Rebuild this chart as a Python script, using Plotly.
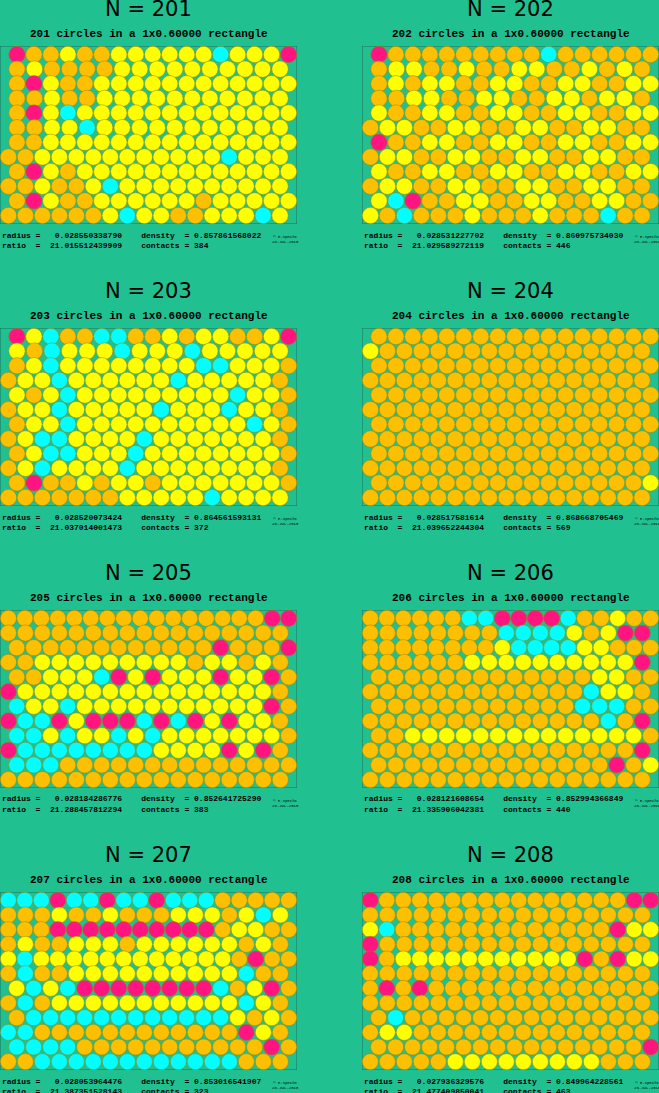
import plotly.graph_objects as go

W, H = 659, 1093

n_values = [201, 202, 203, 204, 205, 206, 207, 208]
radius = ["0.028550338790", "0.028531227702", "0.028520073424", "0.028517581614",
          "0.028184286776", "0.028121608654", "0.028053964476", "0.027936329576"]
density = ["0.857861568022", "0.860975734030", "0.864561593131", "0.868668705469",
           "0.852641725290", "0.852994366849", "0.853016541907", "0.849964228561"]
ratio = ["21.015512439909", "21.029589272119", "21.037014001473", "21.039652244304",
         "21.288457812294", "21.335906042381", "21.387351528143", "21.477409850041"]
contacts = [384, 446, 372, 569, 383, 440, 323, 463]

# colour of each circle, row by row from the top
colour_rows = [
    ["MOOYOOYYYYYYCYYYM", "OYOOOOYYYYYYYYYYC", "OMYOOYYYYYYYYYYYY", "OOYOOYYYYYYYYYYYY",
     "OMYCYYYYYYYYYYYYY", "OOYYCYYYYYYYYYYYY", "OOYYYYYYYYYYYYYYY", "OOYYYYYYYYYYYCYYY",
     "OMYOYYYYYYYYYYYYY", "OOYOOYCYYYYYYYYYY", "OMYOOYYYYYYOYYYYY", "OOOOOOYCYYOOYYYCY"],
    ["MOOOOOOOOOCOOOOOO", "OYYOOYOOYYOOYOYOO", "OYOYYOOYYOOYYOOYY", "OOYYOOYYOOYYOYYOO",
     "YOOYYOOYYOOYYOOYY", "OYYOOYYOOYYOOYYOO", "MOOYYOOYYOOYYOOYY", "OYYOOYYOOYYOOYYOO",
     "YOOYYOOYYOOYYOOYY", "OYYOOYYOOYYOOYYOO", "YCMOOYYOOYYOOYYOO", "YOCOOOYOOOYOOOCOO"],
    ["MYCOOCCOOYOYYOOYM", "YOCYYYCYYYCYYYYYO", "OYCYYYYYYYYCCYYYO", "OYYCYYYYYYCYYYYYO",
     "YOYCYYYYYYYYYCYYO", "OYYCYYYYYCYYYCYYO", "OYYCYYYYYYYYYYCYO", "OYCCYYYYCYYYYYYYO",
     "OYCCYYYCYYYYYYYYO", "OYCYYYYCYYYYYYYYO", "OMOOYOYYOYYYYYYYO", "OOOOOOOYYYYYCYYYY"],
    ["OOOOOOOOOOOOOOOOO", "YOOOOOOOOOOOOOOOO", "OOOOOOOOOOOOOOOOO", "OOOOOOOOOOOOOOOOO",
     "OOOOOOOOOOOOOOOOO", "OOOOOOOOOOOOOOOOO", "OOOOOOOOOOOOOOOOO", "OOOOOOOOOOOOOOOOO",
     "OOOOOOOOOOOOOOOOO", "OOOOOOOOOOOOOOOOO", "OOOOOOOOOOOOOOOOY", "OOOOOOOOOOOOOOOOO"],
    ["OOOOOOOOOOOOOOOOM", "OOOOOOOOOOOOOOOOO", "OOOOOOOOOOOOMOOOM", "OOYYYYYYYYYOYYOYO",
     "OOYYYCMYMYYYMYYMO", "MYYYYYYYYYYYYYYYO", "CYYCYYYYYYYYYYYMO", "MCCMYMMMCMCMYMYYO",
     "CCYCYYCYCYYYYYYYO", "MCCCCCCCCYYYYMYMO", "CCCOOOOOOOOOOOOOO", "OOOOOOOOOOOOOOOOO"],
    ["OOOOOOCCMMMMCOOYO", "OOOOOOOOCCCCYOYMM", "OOOOOOOOYCCCCYYOO", "OOOOOOYYYYYYYYYYM",
     "OOOOOOOOOOOOOYYOO", "OOOOOOOOOOOOOCYYO", "OOOOOOOOOOOOCCCOO", "OOOOOOOOOOOOOOCOM",
     "OOYYYYYYYYYYYYYYO", "OOOOOOOOOOOOOOOOM", "OOOOOOOOOOOOOOMOY", "OOOOOOOOOOOOOOOOO"],
    ["CCCMCCMCCMCCCOOOO", "OOOYOOYOOOYYYOYCY", "OOOMMMMMMMMMMOYYO", "OYOOYYYOYYYYYYOYO",
     "YCYYYYYYYYYYYYOMO", "OCOOYYYYYYYYYYCOO", "YCYCMMMMMMMMCOYMO", "OCOYYYYYYYYYYYCYO",
     "OCCCCCCCCCCCCYOYO", "CCOOOOOOOOOOOOMYO", "CCCCOOOOOOOOOOOMO", "OOCCCCCCCCCCCCOOO"],
    ["MOOOOOOOOOOOOOOOM", "OOOOOOOOOOOOOOOOO", "YCOOOOOOOOOOOOOMY", "MOOOOOOOOOOOOOOOO",
     "MOYYYYYYYYYYYMOMY", "OOOOOOOOOOOOOOOOO", "OMOMOOOOOOOOOOOOO", "OOOOOOOOOOOOOOOOO",
     "OCOOOOOOOOOOOOOOO", "OYYOOOOOOOOOOOOOO", "OOOOOOOOOOOOOOOOM", "OOOOOYYYYYYYYYOOO"],
]
palette = {"O": "#fcc000", "Y": "#ffff00", "C": "#00ffff", "M": "#ff1480"}

BG = "#20c090"
PW, PH = 297, 178
fig = go.Figure()
annotations = []
n_rows = 12

for k, n in enumerate(n_values):
    col, row = k % 2, k // 2
    x0 = 0 if col == 0 else 362
    top = 46 + 282 * row
    r = float(radius[k])
    # distribute circles over 12 rows
    counts = [17] * n_rows
    diff = n - sum(counts)
    i = 1
    while diff < 0:
        counts[i] -= 1
        diff += 1
        i += 2
    i = 0
    while diff > 0:
        counts[i] += 1
        diff -= 1
        i += 2
    dy = (0.6 - 2 * r) / (n_rows - 1)
    xs, ys, cs = [], [], []
    for ri, c in enumerate(counts):
        y = 0.6 - r - ri * dy
        if c >= 18:
            start, end = r, 1 - r
        elif c == 17:
            start, end = (2 * r, 1 - r) if ri % 2 == 0 else (r, 1 - 2 * r)
        else:
            start, end = 2 * r, 1 - 2 * r
        step = (end - start) / (c - 1)
        s = colour_rows[k][ri]
        for ci in range(c):
            xs.append(start + ci * step)
            ys.append(y)
            cs.append(palette[s[min(ci, len(s) - 1)]])
    ax = "" if k == 0 else str(k + 1)
    fig.add_trace(go.Scatter(
        x=xs, y=ys, mode="markers", xaxis="x" + ax, yaxis="y" + ax,
        marker=dict(size=2 * r * PW * 0.97, color=cs, line=dict(color="#a08000", width=0.5)),
        hoverinfo="skip", showlegend=False))
    fig.update_layout(**{
        "xaxis" + ax: dict(domain=[x0 / W, (x0 + PW) / W], range=[0, 1], visible=False,
                           fixedrange=True),
        "yaxis" + ax: dict(domain=[1 - (top + PH) / H, 1 - top / H], range=[0, 0.6],
                           visible=False, fixedrange=True),
    })
    fig.add_shape(type="rect", xref="x" + ax, yref="y" + ax, x0=0, x1=1, y0=0, y1=0.6,
                  line=dict(color="#207060", width=1), layer="below")
    cx = (x0 + PW / 2) / W

    def ann(text, x, y, size, family, bold=False, xanchor="center"):
        annotations.append(dict(
            text=f"<b>{text}</b>" if bold else text, x=x, y=1 - y / H, xref="paper",
            yref="paper", showarrow=False, xanchor=xanchor, yanchor="middle",
            font=dict(size=size, family=family, color="black")))

    base = 282 * row
    ann(f"N = {n}", cx, base + 9, 21, "DejaVu Sans")
    ann(f"{n} circles in a 1x0.60000 rectangle", cx, base + 34, 11, "Liberation Mono", True)
    ann(f"radius =   {radius[k]}    density  = {density[k]}", x0 / W, base + 235, 8,
        "Liberation Mono", True, "left")
    ann(f"ratio  =  {ratio[k]}    contacts = {contacts[k]}", x0 / W, base + 245, 8,
        "Liberation Mono", True, "left")
    ann("© E.Specht<br>28-JUL-2010", (x0 + 270) / W, base + 239, 4, "Liberation Mono",
        False, "left")

fig.update_layout(width=W, height=H, margin=dict(l=0, r=0, t=0, b=0),
                  paper_bgcolor=BG, plot_bgcolor=BG, annotations=annotations)
fig.write_html("out.html", config={"displayModeBar": False},
               post_script="document.body.style.margin='0';")
